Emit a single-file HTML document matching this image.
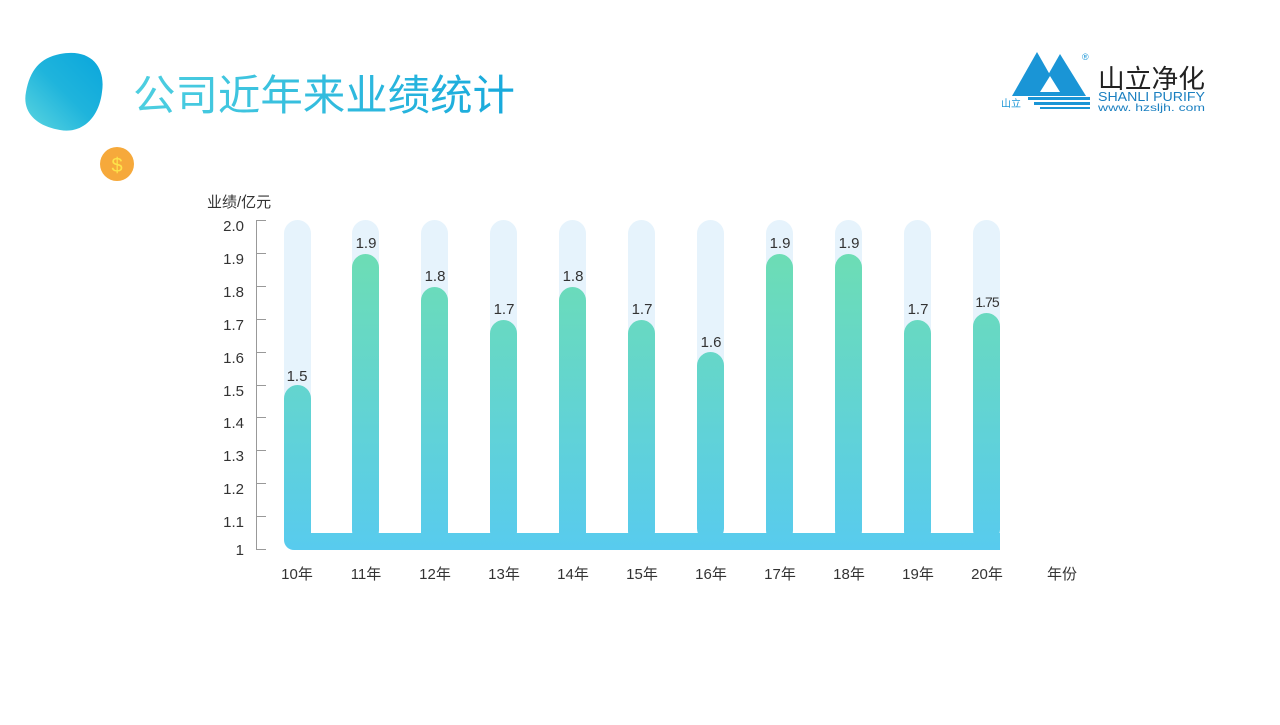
<!DOCTYPE html>
<html><head><meta charset="utf-8"><style>
body{margin:0;width:1280px;height:720px;background:#fff;overflow:hidden;font-family:"Liberation Sans","Noto Sans CJK SC",sans-serif}
</style></head><body>
<svg width="1280" height="720" viewBox="0 0 1280 720" xmlns="http://www.w3.org/2000/svg" font-family="Liberation Sans, Noto Sans CJK SC, sans-serif">
<defs>
<linearGradient id="bg" x1="0" y1="220" x2="0" y2="549" gradientUnits="userSpaceOnUse">
<stop offset="0" stop-color="#6fdfae"/><stop offset="1" stop-color="#58cbee"/></linearGradient>
<linearGradient id="blob" x1="0" y1="1" x2="1" y2="0"><stop offset="0" stop-color="#5dd6e0"/><stop offset="0.5" stop-color="#1fb4dc"/><stop offset="1" stop-color="#0aa6dc"/></linearGradient>
<linearGradient id="tt" x1="0" y1="0" x2="1" y2="0"><stop offset="0" stop-color="#4ecfe0"/><stop offset="1" stop-color="#17a9dc"/></linearGradient>
</defs>
<path d="M60 54 C90 48 106 66 102 92 C99 118 82 134 60 130 C36 126 22 112 26 92 C30 70 40 58 60 54Z" fill="url(#blob)"/>
<text x="133" y="110" font-size="42" fill="url(#tt)" textLength="382" lengthAdjust="spacingAndGlyphs">公司近年来业绩统计</text>
<circle cx="117" cy="164" r="17" fill="#f6a93b"/>
<text x="117" y="172" font-size="20" fill="#fde34a" text-anchor="middle">$</text>
<!-- logo -->
<polygon points="1012,96 1037,52 1062,96" fill="#1a95d6"/>
<polygon points="1036,96 1060,54 1086,96" fill="#1a95d6"/>
<polygon points="1040,92 1050,76 1060,92" fill="#fff"/>
<rect x="1028" y="97" width="62" height="3" fill="#1a95d6"/><rect x="1034" y="102" width="56" height="3" fill="#1a95d6"/><rect x="1040" y="107" width="50" height="2" fill="#1a95d6"/>
<text x="1001" y="107" font-size="10" fill="#1a95d6">山立</text>
<text x="1082" y="60" font-size="9" fill="#1a95d6">®</text>
<text x="1098" y="88" font-size="26" fill="#222" textLength="107" lengthAdjust="spacingAndGlyphs">山立净化</text>
<text x="1098" y="101" font-size="13" fill="#1a7fc0" textLength="107" lengthAdjust="spacingAndGlyphs">SHANLI PURIFY</text>
<text x="1098" y="111" font-size="10" fill="#1a7fc0" textLength="107" lengthAdjust="spacingAndGlyphs">www. hzsljh. com</text>
<!-- axis -->
<text x="207" y="207" font-size="15" fill="#333">业绩/亿元</text>
<g stroke="#999" stroke-width="1"><line x1="256.5" y1="220" x2="256.5" y2="549"/>
<line x1="256" y1="220.5" x2="266" y2="220.5"/><line x1="256" y1="253.5" x2="266" y2="253.5"/><line x1="256" y1="286.5" x2="266" y2="286.5"/><line x1="256" y1="319.5" x2="266" y2="319.5"/><line x1="256" y1="352.5" x2="266" y2="352.5"/><line x1="256" y1="385.5" x2="266" y2="385.5"/><line x1="256" y1="417.5" x2="266" y2="417.5"/><line x1="256" y1="450.5" x2="266" y2="450.5"/><line x1="256" y1="483.5" x2="266" y2="483.5"/><line x1="256" y1="516.5" x2="266" y2="516.5"/><line x1="256" y1="549.5" x2="266" y2="549.5"/></g>
<g font-size="15" fill="#333" text-anchor="end">
<text x="244" y="231">2.0</text><text x="244" y="264">1.9</text><text x="244" y="297">1.8</text><text x="244" y="330">1.7</text><text x="244" y="363">1.6</text><text x="244" y="396">1.5</text><text x="244" y="428">1.4</text><text x="244" y="461">1.3</text><text x="244" y="494">1.2</text><text x="244" y="527">1.1</text><text x="244" y="555">1</text></g>
<g fill="#e6f3fc">
<rect x="284" y="220" width="27" height="320" rx="13.5"/><rect x="352" y="220" width="27" height="320" rx="13.5"/><rect x="421" y="220" width="27" height="320" rx="13.5"/><rect x="490" y="220" width="27" height="320" rx="13.5"/><rect x="559" y="220" width="27" height="320" rx="13.5"/><rect x="628" y="220" width="27" height="320" rx="13.5"/><rect x="697" y="220" width="27" height="320" rx="13.5"/><rect x="766" y="220" width="27" height="320" rx="13.5"/><rect x="835" y="220" width="27" height="320" rx="13.5"/><rect x="904" y="220" width="27" height="320" rx="13.5"/><rect x="973" y="220" width="27" height="320" rx="13.5"/></g>
<g fill="url(#bg)">
<rect x="294" y="533" width="706" height="17"/>
<rect x="284" y="520" width="27" height="30" rx="10"/>
<rect x="284" y="385" width="27" height="150" rx="13.5"/>
<rect x="284" y="400" width="27" height="140"/>
<rect x="352" y="254" width="27" height="290" rx="13.5"/>
<rect x="421" y="287" width="27" height="260" rx="13.5"/>
<rect x="490" y="320" width="27" height="225" rx="13.5"/>
<rect x="559" y="287" width="27" height="260" rx="13.5"/>
<rect x="628" y="320" width="27" height="225" rx="13.5"/>
<rect x="697" y="352" width="27" height="190" rx="13.5"/>
<rect x="766" y="254" width="27" height="290" rx="13.5"/>
<rect x="835" y="254" width="27" height="290" rx="13.5"/>
<rect x="904" y="320" width="27" height="225" rx="13.5"/>
<rect x="973" y="313" width="27" height="230" rx="13.5"/></g>
<g font-size="15" fill="#333" text-anchor="middle">
<text x="297" y="381">1.5</text><text x="366" y="248">1.9</text><text x="435" y="281">1.8</text><text x="504" y="314">1.7</text><text x="573" y="281">1.8</text><text x="642" y="314">1.7</text><text x="711" y="347">1.6</text><text x="780" y="248">1.9</text><text x="849" y="248">1.9</text><text x="918" y="314">1.7</text><text x="987" y="307" font-size="14" letter-spacing="-1">1.75</text></g>
<g font-size="15" fill="#333" text-anchor="middle">
<text x="297" y="579">10年</text><text x="366" y="579">11年</text><text x="435" y="579">12年</text><text x="504" y="579">13年</text><text x="573" y="579">14年</text><text x="642" y="579">15年</text><text x="711" y="579">16年</text><text x="780" y="579">17年</text><text x="849" y="579">18年</text><text x="918" y="579">19年</text><text x="987" y="579">20年</text><text x="1062" y="579">年份</text></g>
</svg>
</body></html>
